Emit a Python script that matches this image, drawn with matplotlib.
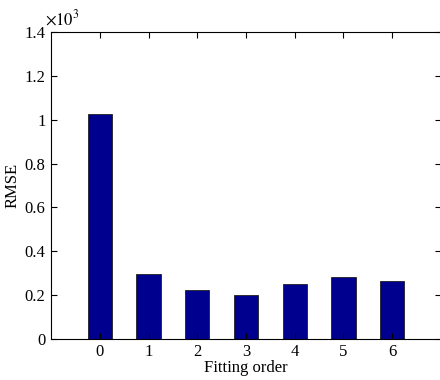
import matplotlib
matplotlib.use('Agg')
import matplotlib.pyplot as plt
from matplotlib.ticker import FuncFormatter

plt.rcParams['font.family'] = ['Liberation Serif', 'DejaVu Serif']
plt.rcParams['mathtext.fontset'] = 'stix'

# RMSE for each polynomial fitting order
orders = [0, 1, 2, 3, 4, 5, 6]
rmse = [1025, 294, 222, 198, 250, 280, 265]

fig = plt.figure(figsize=(4.4, 3.8), dpi=100)
ax = fig.add_axes([0.116, 0.109, 0.886, 0.806])

ax.bar(orders, rmse, width=0.5, color='#00008f', edgecolor='#202020', linewidth=0.6)

ax.set_xlim(-1, 7)
ax.set_ylim(0, 1400)
ax.set_xticks(orders)
ax.set_yticks(range(0, 1401, 200))
ax.yaxis.set_major_formatter(FuncFormatter(lambda v, p: '%g' % (v / 1000)))

ax.tick_params(direction='in', length=4, width=0.8, labelsize=12,
               top=True, right=True, pad=4)
for s in ax.spines.values():
    s.set_linewidth(0.8)

ax.set_xlabel('Fitting order', fontsize=12, labelpad=0)
ax.set_ylabel('RMSE', fontsize=12, labelpad=3)
ax.text(-0.015, 1.012, r'$\times10^{3}$', transform=ax.transAxes,
        fontsize=12, ha='left', va='bottom')

fig.savefig('out.png', dpi=100)
